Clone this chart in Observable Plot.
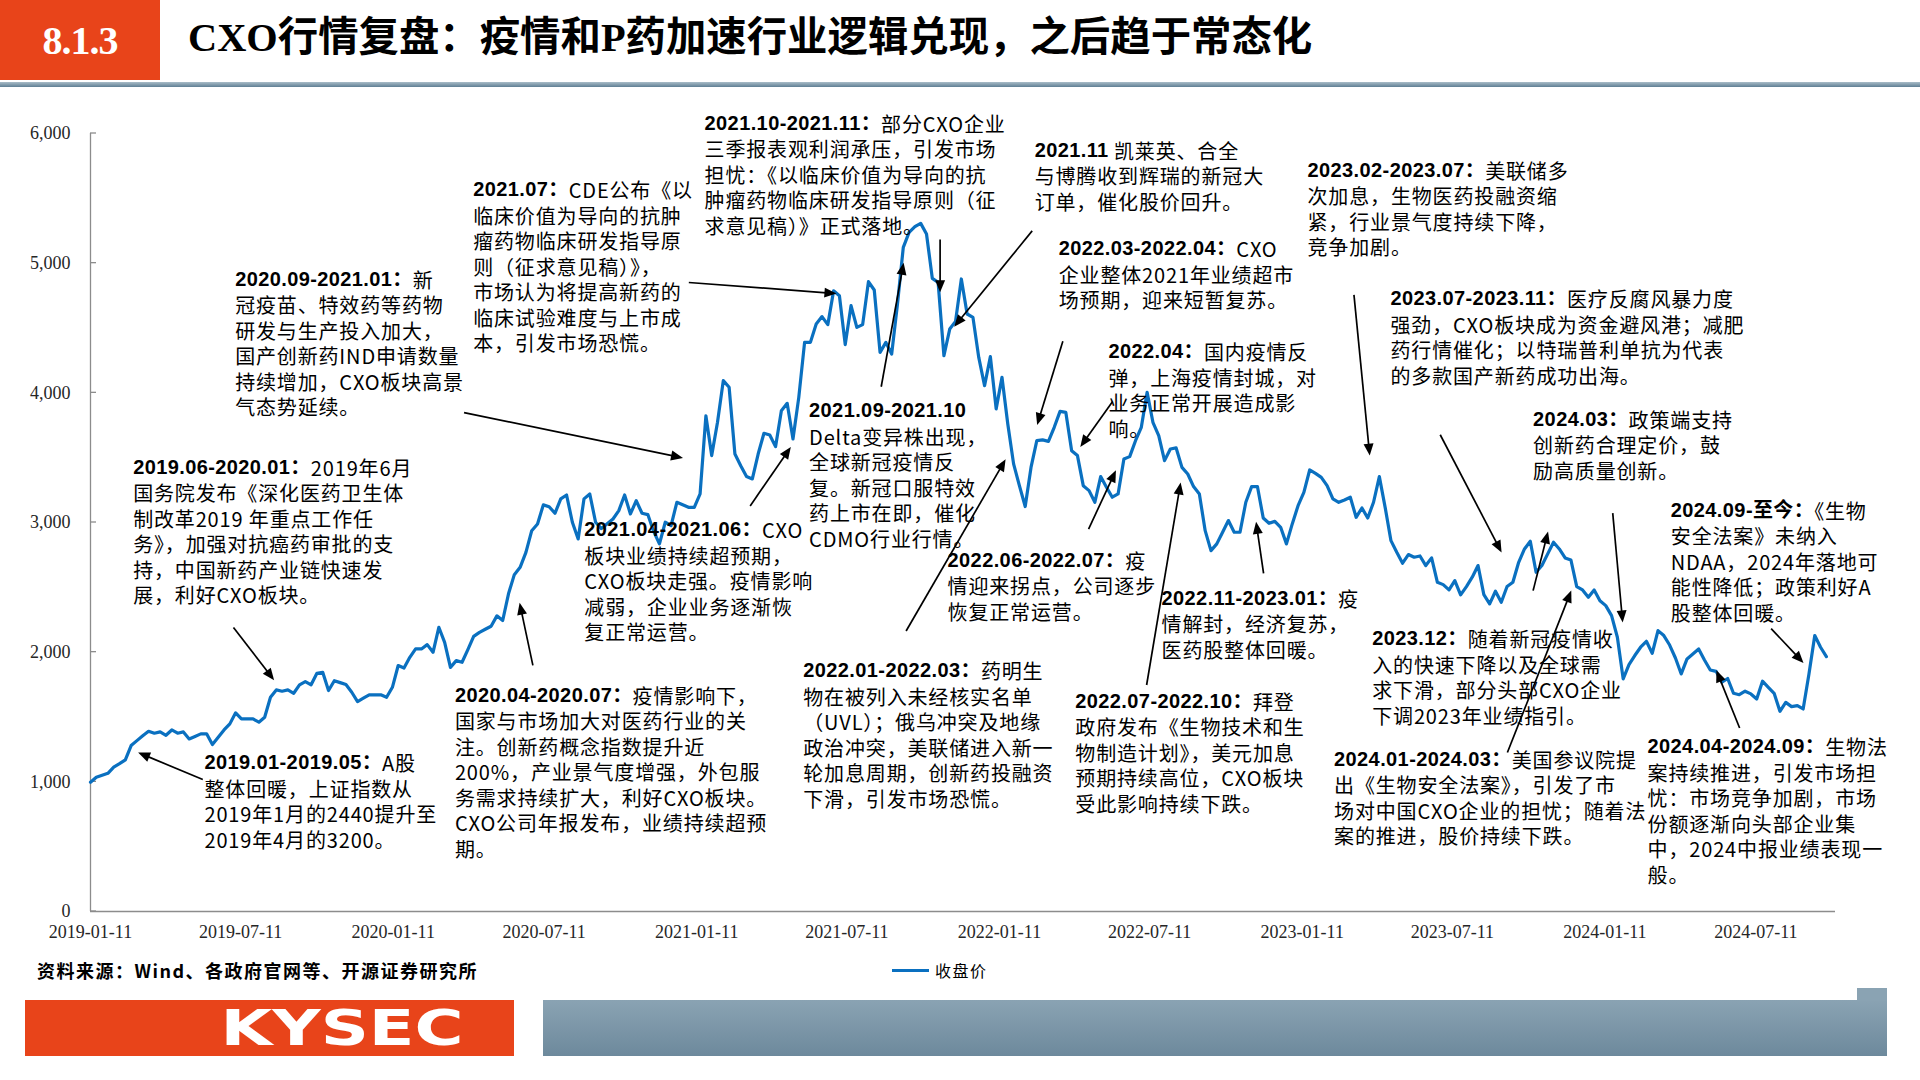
<!DOCTYPE html>
<html><head><meta charset="utf-8">
<script src="https://cdn.jsdelivr.net/npm/d3@7"></script>
<script src="https://cdn.jsdelivr.net/npm/@observablehq/plot@0.6"></script>
<style>
html,body{margin:0;padding:0;background:#fff;}
#page{position:relative;width:1920px;height:1080px;overflow:hidden;font-family:"Noto Sans CJK SC",sans-serif;color:#000;}
#badge{position:absolute;left:0;top:0;width:160px;height:80px;background:#e8441a;color:#fff;font:bold 40px "Liberation Serif",serif;display:flex;align-items:center;justify-content:center;letter-spacing:-1px;}
#title{position:absolute;left:188px;top:12px;font-size:40.4px;font-weight:bold;font-family:"Liberation Serif","Noto Sans CJK SC",serif;line-height:52px;white-space:nowrap;}
#rule{position:absolute;left:0;top:82px;width:1920px;height:5px;background:linear-gradient(#a9bcc8,#5f7f94);}
#chart{position:absolute;left:0;top:95px;}
#source{position:absolute;left:37px;top:957px;font-weight:bold;font-size:18px;letter-spacing:1.5px;white-space:nowrap;}
#legend{position:absolute;left:892px;top:958px;font-size:16px;letter-spacing:1.5px;display:flex;align-items:center;white-space:nowrap;}
#legend .sw{display:inline-block;width:37px;height:3px;background:#0a70c0;margin-right:6px;}
#kysec{position:absolute;left:25px;top:1000px;width:489px;height:56px;background:#e8441a;}
#kysec svg{position:absolute;left:0;top:0;}
#band{position:absolute;left:543px;top:1000px;width:1344px;height:56px;background:linear-gradient(#8aa3b3,#6d899c);}
#tab{position:absolute;left:1857px;top:988px;width:30px;height:13px;background:#8aa3b3;}
</style></head>
<body><div id="page">
<div id="badge">8.1.3</div>
<div id="title">CXO行情复盘：疫情和P药加速行业逻辑兑现，之后趋于常态化</div>
<div id="rule"></div>
<div id="chart"></div>
<div id="source">资料来源：Wind、各政府官网等、开源证券研究所</div>
<div id="legend"><span class="sw"></span><span id="legendText"></span></div>
<div id="kysec"><svg width="489" height="56"><text x="317" y="45" text-anchor="middle" fill="#fff" font-family="DejaVu Sans" font-weight="bold" font-size="50" textLength="243" lengthAdjust="spacingAndGlyphs">KYSEC</text></svg></div>
<div id="band"></div><div id="tab"></div>
</div>
<script>
// ---- data ----
const seriesName = "收盘价";
const firstWeek = "2019-01-11";
const close2019 = [997,1035,1050,1066,1113,1140,1169,1280,1318,1355,1390,1375,1385,1359,1400,1375,1385,1331,1350,1370,1370,1288,1344,1400,1447,1532,1485,1485,1485,1460,1498,1652,1709,1699,1709,1683,1748,1773,1748,1837,1845,1704,1780,1765,1750,1691,1619,1645,1671,1671,1671];
const close2020 = [1652,1729,1897,1878,1960,2025,2025,2058,1999,2192,2076,1883,1935,1922,2020,2122,2153,2177,2200,2280,2244,2450,2598,2654,2770,2937,2989,3136,3122,3071,3182,3212,3002,2873,3182,3220,3002,2953,2990,3027,3092,3212,3066,3168,3071,3061,2931,2835,3002,2976,3156,3137];
const close2021 = [3117,3117,3220,3823,3516,3773,4094,4043,3528,3438,3354,3336,3528,3688,3675,3585,3862,3919,3644,3965,4389,4389,4531,4588,4526,4787,4749,4372,4672,4505,4526,4857,4793,4312,4389,4299,4685,5122,5237,5281,5307,5225,4883,4852,4286,4492,4551,4878,4608,4582,4273,4055,4279];
const close2022 = [3876,4120,3760,3452,3284,3123,3425,3631,3637,3626,3734,3857,3849,3554,3516,3284,3246,3156,3354,3272,3195,3220,3490,3508,3631,3734,4004,3773,3670,3477,3567,3575,3425,3374,3277,3220,2937,2783,2835,2925,3015,2925,2925,3156,3277,3277,3035,2994,3009,2963,2835,2989];
const close2023 = [3130,3233,3405,3379,3348,3284,3182,3156,3174,3195,3040,3112,3035,3156,3354,3117,2860,2770,2686,2753,2732,2742,2668,2727,2539,2521,2480,2552,2442,2506,2578,2668,2444,2372,2470,2385,2506,2539,2693,2796,2855,2616,2668,2758,2848,2796,2727,2711,2506,2480,2423,2480];
const close2024 = [2397,2359,2282,2115,1794,1904,1974,2038,2084,1991,2166,2128,2055,1955,1832,1948,1986,2025,1940,1863,1852,1768,1797,1683,1672,1699,1678,1639,1776,1729,1683,1544,1613,1580,1588,1562,1832,2128,2038,1966];

const xTickLabels = ["2019-01-11","2019-07-11","2020-01-11","2020-07-11","2021-01-11","2021-07-11","2022-01-11","2022-07-11","2023-01-11","2023-07-11","2024-01-11","2024-07-11"];
const xDomain = ["2019-01-11","2024-10-15"];
const yTicks = [0,1000,2000,3000,4000,5000,6000];

const noteDates = ["2019-05-29","2019-03-04","2019-07-05","2020-03-26","2020-04-17","2020-08-29","2021-01-21","2021-05-27","2022-02-23","2022-03-24","2022-05-23","2021-11-10","2021-05-20","2022-04-13","2022-07-26","2023-01-18","2023-04-28","2023-10-17","2024-03-31","2023-04-06","2023-02-19","2024-03-03"];
const noteValues = [1146,3427,4875,1667,5566,2945,6078,3863,5869,5112,4317,2708,1856,1620,2414,5718,4724,3796,3096,2102,1175,1269];
const noteHeads = ["2019.01-2019.05：","2019.06-2020.01：","2020.09-2021.01：","2020.04-2020.07：","2021.07：","2021.04-2021.06：","2021.10-2021.11：","2021.09-2021.10","2021.11","2022.03-2022.04：","2022.04：","2022.06-2022.07：","2022.01-2022.03：","2022.07-2022.10：","2022.11-2023.01：","2023.02-2023.07：","2023.07-2023.11：","2024.03：","2024.09-至今：","2023.12：","2024.01-2024.03：","2024.04-2024.09："];
const noteBodies = [
 "A股|整体回暖，上证指数从|2019年1月的2440提升至|2019年4月的3200。",
 "2019年6月|国务院发布《深化医药卫生体|制改革2019 年重点工作任|务》，加强对抗癌药审批的支|持，中国新药产业链快速发|展，利好CXO板块。",
 "新|冠疫苗、特效药等药物|研发与生产投入加大，|国产创新药IND申请数量|持续增加，CXO板块高景|气态势延续。",
 "疫情影响下，|国家与市场加大对医药行业的关|注。创新药概念指数提升近|200%，产业景气度增强，外包服|务需求持续扩大，利好CXO板块。|CXO公司年报发布，业绩持续超预|期。",
 "CDE公布《以|临床价值为导向的抗肿|瘤药物临床研发指导原|则（征求意见稿）》，|市场认为将提高新药的|临床试验难度与上市成|本，引发市场恐慌。",
 "CXO|板块业绩持续超预期，|CXO板块走强。疫情影响|减弱，企业业务逐渐恢|复正常运营。",
 "部分CXO企业|三季报表观利润承压，引发市场|担忧：《以临床价值为导向的抗|肿瘤药物临床研发指导原则（征|求意见稿）》正式落地。",
 "|Delta变异株出现，|全球新冠疫情反|复。新冠口服特效|药上市在即，催化|CDMO行业行情。",
 " 凯莱英、合全|与博腾收到辉瑞的新冠大|订单，催化股价回升。",
 "CXO|企业整体2021年业绩超市|场预期，迎来短暂复苏。",
 "国内疫情反|弹，上海疫情封城，对|业务正常开展造成影|响。",
 "疫|情迎来拐点，公司逐步|恢复正常运营。",
 "药明生|物在被列入未经核实名单|（UVL）；俄乌冲突及地缘|政治冲突，美联储进入新一|轮加息周期，创新药投融资|下滑，引发市场恐慌。",
 "拜登|政府发布《生物技术和生|物制造计划》，美元加息|预期持续高位，CXO板块|受此影响持续下跌。",
 "疫|情解封，经济复苏，|医药股整体回暖。",
 "美联储多|次加息，生物医药投融资缩|紧，行业景气度持续下降，|竞争加剧。",
 "医疗反腐风暴力度|强劲，CXO板块成为资金避风港；减肥|药行情催化；以特瑞普利单抗为代表|的多款国产新药成功出海。",
 "政策端支持|创新药合理定价，鼓|励高质量创新。",
 "《生物|安全法案》未纳入|NDAA，2024年落地可|能性降低；政策利好A|股整体回暖。",
 "随着新冠疫情收|入的快速下降以及全球需|求下滑，部分头部CXO企业|下调2023年业绩指引。",
 "美国参议院提|出《生物安全法案》，引发了市|场对中国CXO企业的担忧；随着法|案的推进，股价持续下跌。",
 "生物法|案持续推进，引发市场担|忧：市场竞争加剧，市场|份额逐渐向头部企业集|中，2024中报业绩表现一|般。"
];

const arrowTails = [["2019-05-27",1014],["2019-07-03",2187],["2020-04-06",3844],["2020-06-28",1894],["2021-01-02",4847],["2021-03-17",3124],["2021-08-22",4043],["2021-11-01",5178],["2022-02-20",5245],["2022-03-29",4393],["2022-05-28",3929],["2022-04-29",2945],["2021-09-21",2159],["2022-07-08",1743],["2022-11-26",2604],["2023-03-15",4752],["2023-06-27",3673],["2023-10-17",2471],["2024-01-21",3068],["2023-09-16",1222],["2024-06-22",1411],["2024-07-30",2178]];
const arrowHeads = [["2019-03-10",1222],["2019-08-21",1780],["2020-12-26",3494],["2020-06-12",2377],["2021-06-29",4762],["2021-05-05",3579],["2021-09-18",4999],["2021-11-01",4771],["2021-11-18",4506],["2022-02-26",3749],["2022-04-19",3579],["2022-06-01",3399],["2022-01-19",3484],["2022-08-18",3304],["2022-11-17",3001],["2023-04-03",3512],["2023-09-09",2765],["2023-11-04",2926],["2024-02-02",2225],["2023-12-02",2471],["2024-05-25",1856],["2024-09-07",1913]];

// ---- build ----
const closeAll = [...close2019, ...close2020, ...close2021, ...close2022, ...close2023, ...close2024];
const series = closeAll.map((v, i) => ({date: d3.utcDay.offset(new Date(firstWeek), 7 * i), close: v}));
document.getElementById("legendText").textContent = seriesName;

const axisColor = "#8c8c8c";
const yTickMarks = (index, scales) => {
  const g = d3.create("svg:g").attr("stroke", axisColor).attr("stroke-width", 1.3);
  const x0 = scales.x(new Date(xDomain[0]));
  for (const v of yTicks) g.append("line").attr("x1", x0).attr("x2", x0 + 6).attr("y1", scales.y(v)).attr("y2", scales.y(v));
  return g.node();
};
const arrowMark = (index, scales) => {
  const g = d3.create("svg:g");
  arrowTails.forEach((t, i) => {
    const h = arrowHeads[i];
    const x1 = scales.x(new Date(t[0])), y1 = scales.y(t[1]);
    const x2 = scales.x(new Date(h[0])), y2 = scales.y(h[1]);
    const dx = x2 - x1, dy = y2 - y1, L = Math.hypot(dx, dy), ux = dx / L, uy = dy / L;
    const hl = 12, hw = 5;
    const bx = x2 - ux * hl, by = y2 - uy * hl;
    g.append("line").attr("x1", x1).attr("y1", y1).attr("x2", bx + ux * 2).attr("y2", by + uy * 2)
      .attr("stroke", "#000").attr("stroke-width", 1.7);
    g.append("path").attr("d", `M${x2},${y2}L${bx - uy * hw},${by + ux * hw}L${bx + uy * hw},${by - ux * hw}Z`).attr("fill", "#000");
  });
  return g.node();
};
const LH = 25.5;
const noteMark = (index, scales) => {
  const g = d3.create("svg:g").attr("font-family", "'Noto Sans CJK SC', sans-serif").attr("font-size", 20)
    .attr("fill", "#000").attr("text-anchor", "start");
  noteBodies.forEach((body, i) => {
    const x = scales.x(new Date(noteDates[i])), y = scales.y(noteValues[i]);
    body.split("|").forEach((ln, j) => {
      const t = g.append("text").attr("x", x).attr("y", y + j * LH).attr("dominant-baseline", "central")
        .attr("text-anchor", "start").attr("letter-spacing", 0.85);
      if (j === 0) t.append("tspan").attr("font-weight", "bold").attr("font-family", "'Liberation Sans', 'Noto Sans CJK SC', sans-serif").attr("letter-spacing", 0.4).text(noteHeads[i]);
      if (ln) t.append("tspan").attr("letter-spacing", 0.85).text(ln);
    });
  });
  return g.node();
};

const chart = Plot.plot({
  width: 1920, height: 861,
  marginTop: 38, marginRight: 85, marginBottom: 45, marginLeft: 90,
  style: {fontFamily: "'Liberation Serif', serif", fontSize: "18px", color: "#262626", background: "transparent", overflow: "visible"},
  x: {type: "utc", domain: xDomain.map(d => new Date(d)), label: null},
  y: {domain: [0, 6000], label: null},
  marks: [
    Plot.axisX({ticks: xTickLabels.map(d => new Date(d)), tickFormat: d3.utcFormat("%Y-%m-%d"), tickSize: 0, tickPadding: 14, fontSize: 18}),
    Plot.axisY({ticks: yTicks, tickFormat: d3.format(","), tickSize: 0, tickPadding: 20, fontSize: 18}),
    Plot.ruleY([0], {stroke: axisColor, strokeWidth: 1.3}),
    Plot.ruleX([new Date(xDomain[0])], {y1: 0, y2: 6000, stroke: axisColor, strokeWidth: 1.3}),
    yTickMarks,
    Plot.lineY(series, {x: "date", y: "close", stroke: "#0a70c0", strokeWidth: 3.2}),
    arrowMark,
    noteMark
  ]
});
document.getElementById("chart").appendChild(chart);
</script>
</body></html>
